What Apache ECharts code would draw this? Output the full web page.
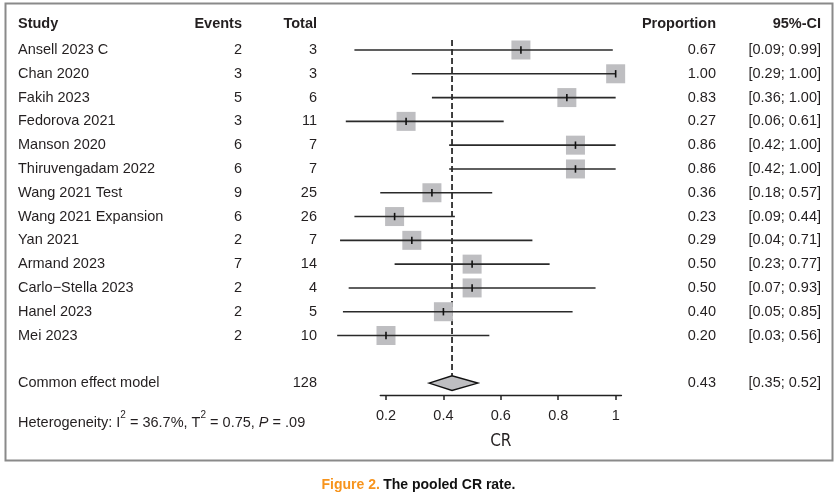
<!DOCTYPE html>
<html>
<head>
<meta charset="utf-8">
<script src="https://cdn.jsdelivr.net/npm/echarts@6/dist/echarts.min.js"></script>
<style>
html,body{margin:0;padding:0;background:#fff;}
#c{width:837px;height:498px;}
</style>
</head>
<body>
<div id="c"></div>
<script>
// ---- data ----
const studies = ["Ansell 2023 C","Chan 2020","Fakih 2023","Fedorova 2021","Manson 2020","Thiruvengadam 2022","Wang 2021 Test","Wang 2021 Expansion","Yan 2021","Armand 2023","Carlo\u2212Stella 2023","Hanel 2023","Mei 2023"];
const events = [2,3,5,3,6,6,9,6,2,7,2,2,2];
const totals = [3,3,6,11,7,7,25,26,7,14,4,5,10];
const proportion = [0.67,1.00,0.83,0.27,0.86,0.86,0.36,0.23,0.29,0.50,0.50,0.40,0.20];
const ciLower = [0.09,0.29,0.36,0.06,0.42,0.42,0.18,0.09,0.04,0.23,0.07,0.05,0.03];
const ciUpper = [0.99,1.00,1.00,0.61,1.00,1.00,0.57,0.44,0.71,0.77,0.93,0.85,0.56];
const pooledLabel = "Common effect model";
const pooledTotal = 128;
const pooledEst = 0.43;
const pooledLower = 0.35;
const pooledUpper = 0.52;
const headers = ["Study","Events","Total","Proportion","95%-CI"];
const tickValues = [0.2,0.4,0.6,0.8,1];
const axisTitle = "CR";

// ---- layout ----
const FONT = "'Liberation Sans', Arial, Helvetica, sans-serif";
const FS = 14.5;
const TXT = "#231f20";
const colX = {study:18, events:242, total:317, prop:716, ci:821};
const pooledRow = studies.length + 1;

const fmt2 = v => v.toFixed(2);

const tableRows = [];
tableRows.push({row:-1, bold:true, cells:[headers[0],headers[1],headers[2],headers[3],headers[4]]});
studies.forEach((s,i)=>{
  tableRows.push({row:i, bold:false, cells:[s, String(events[i]), String(totals[i]), fmt2(proportion[i]), "[" + fmt2(ciLower[i]) + "; " + fmt2(ciUpper[i]) + "]"]});
});
tableRows.push({row:pooledRow, bold:false, cells:[pooledLabel, "", String(pooledTotal), fmt2(pooledEst), "[" + fmt2(pooledLower) + "; " + fmt2(pooledUpper) + "]"]});

const studyData = studies.map((s,i)=>[proportion[i], i, ciLower[i], ciUpper[i]]);

const chart = echarts.init(document.getElementById('c'), null, {renderer:'canvas'});

function textEl(x, y, str, align, bold){
  return {type:'text', style:{x:x, y:y, text:str, align:align, verticalAlign:'middle',
    font:(bold?'bold ':'') + FS + 'px ' + FONT, fill:TXT}};
}

chart.setOption({
  animation:false,
  backgroundColor:'#fff',
  grid:{left:380.25, width:241.15, top:14.3, height:380.7, containLabel:false},
  xAxis:{
    type:'value', min:0.18, max:1.02, position:'bottom',
    axisLine:{show:true, onZero:false, lineStyle:{color:'#222', width:1.4}},
    axisTick:{show:true, inside:false, length:5, customValues:tickValues, lineStyle:{color:'#222', width:1.5}},
    axisLabel:{show:true, customValues:tickValues, margin:13, fontSize:14.5, fontFamily:FONT, color:TXT,
      formatter:v => (v===1 ? '1' : String(Math.round(v*10)/10))},
    splitLine:{show:false},
    name:axisTitle, nameLocation:'middle', nameGap:38,
    nameTextStyle:{fontSize:17, fontFamily:"'Liberation Sans Narrow','DejaVu Sans Condensed',sans-serif", color:TXT}
  },
  yAxis:{type:'value', inverse:true, min:-1.5, max:14.5, show:false},
  graphic:[
    {type:'rect', shape:{x:5.5, y:3.5, width:827, height:457}, style:{fill:'none', stroke:'#8a8a8a', lineWidth:2}},
    {type:'text', left:18, top:410, style:{
      text:'{n|Heterogeneity: I}{s|2}{n| = 36.7%, T}{s|2}{n| = 0.75, }{i|P}{n| = .09}',
      rich:{
        n:{font:'14.5px ' + FONT, fill:TXT, verticalAlign:'bottom', lineHeight:20},
        s:{font:'10px ' + FONT, fill:TXT, verticalAlign:'top', lineHeight:20, padding:[0,0,8,0]},
        i:{font:'italic 14.5px ' + FONT, fill:TXT, verticalAlign:'bottom', lineHeight:20}
      }}},
    {type:'text', left:'center', top:478, style:{
      text:'{o|Figure 2.} {b|The pooled CR rate.}',
      rich:{
        o:{font:'bold 14px ' + FONT, fill:'#f7941d'},
        b:{font:'bold 14px ' + FONT, fill:'#111'}
      }}}
  ],
  series:[
    {
      type:'line', silent:true, symbol:'none', z:1,
      data:[[pooledEst,-0.42],[pooledEst,pooledRow-0.31]],
      lineStyle:{color:'#111', width:1.6, type:[6,3]}
    },
    {
      type:'custom', clip:false, z:3,
      data:studyData,
      renderItem:function(params, api){
        const est = api.coord([api.value(0), api.value(1)]);
        const lo = api.coord([api.value(2), api.value(1)]);
        const hi = api.coord([api.value(3), api.value(1)]);
        const s = 19;
        return {type:'group', children:[
          {type:'rect', shape:{x:est[0]-s/2, y:est[1]-s/2, width:s, height:s}, style:{fill:'#bebec1'}},
          {type:'line', shape:{x1:lo[0], y1:lo[1], x2:hi[0], y2:hi[1]}, style:{stroke:'#2a2a2a', lineWidth:1.6}},
          {type:'line', shape:{x1:est[0], y1:est[1]-3.7, x2:est[0], y2:est[1]+3.7}, style:{stroke:'#111', lineWidth:1.6}}
        ]};
      }
    },
    {
      type:'custom', clip:false, z:3,
      data:[[pooledEst, pooledRow, pooledLower, pooledUpper]],
      renderItem:function(params, api){
        const c = api.coord([api.value(0), api.value(1)]);
        const lo = api.coord([api.value(2), api.value(1)]);
        const hi = api.coord([api.value(3), api.value(1)]);
        const h = 7.3;
        return {type:'polygon', shape:{points:[[lo[0],c[1]],[c[0],c[1]-h],[hi[0],c[1]],[c[0],c[1]+h]]},
          style:{fill:'#bebec1', stroke:'#111', lineWidth:1.4}};
      }
    },
    {
      type:'custom', clip:false, z:4,
      data:tableRows.map(r=>[0.5, r.row]),
      renderItem:function(params, api){
        const r = tableRows[params.dataIndex];
        let y = api.coord([0.5, api.value(1)])[1];
        if (r.row < 0) y -= 2;
        const b = r.bold;
        return {type:'group', children:[
          textEl(colX.study, y, r.cells[0], 'left', b),
          textEl(colX.events, y, r.cells[1], 'right', b),
          textEl(colX.total, y, r.cells[2], 'right', b),
          textEl(colX.prop, y, r.cells[3], 'right', b),
          textEl(colX.ci, y, r.cells[4], 'right', b)
        ]};
      }
    }
  ]
});
</script>
</body>
</html>
